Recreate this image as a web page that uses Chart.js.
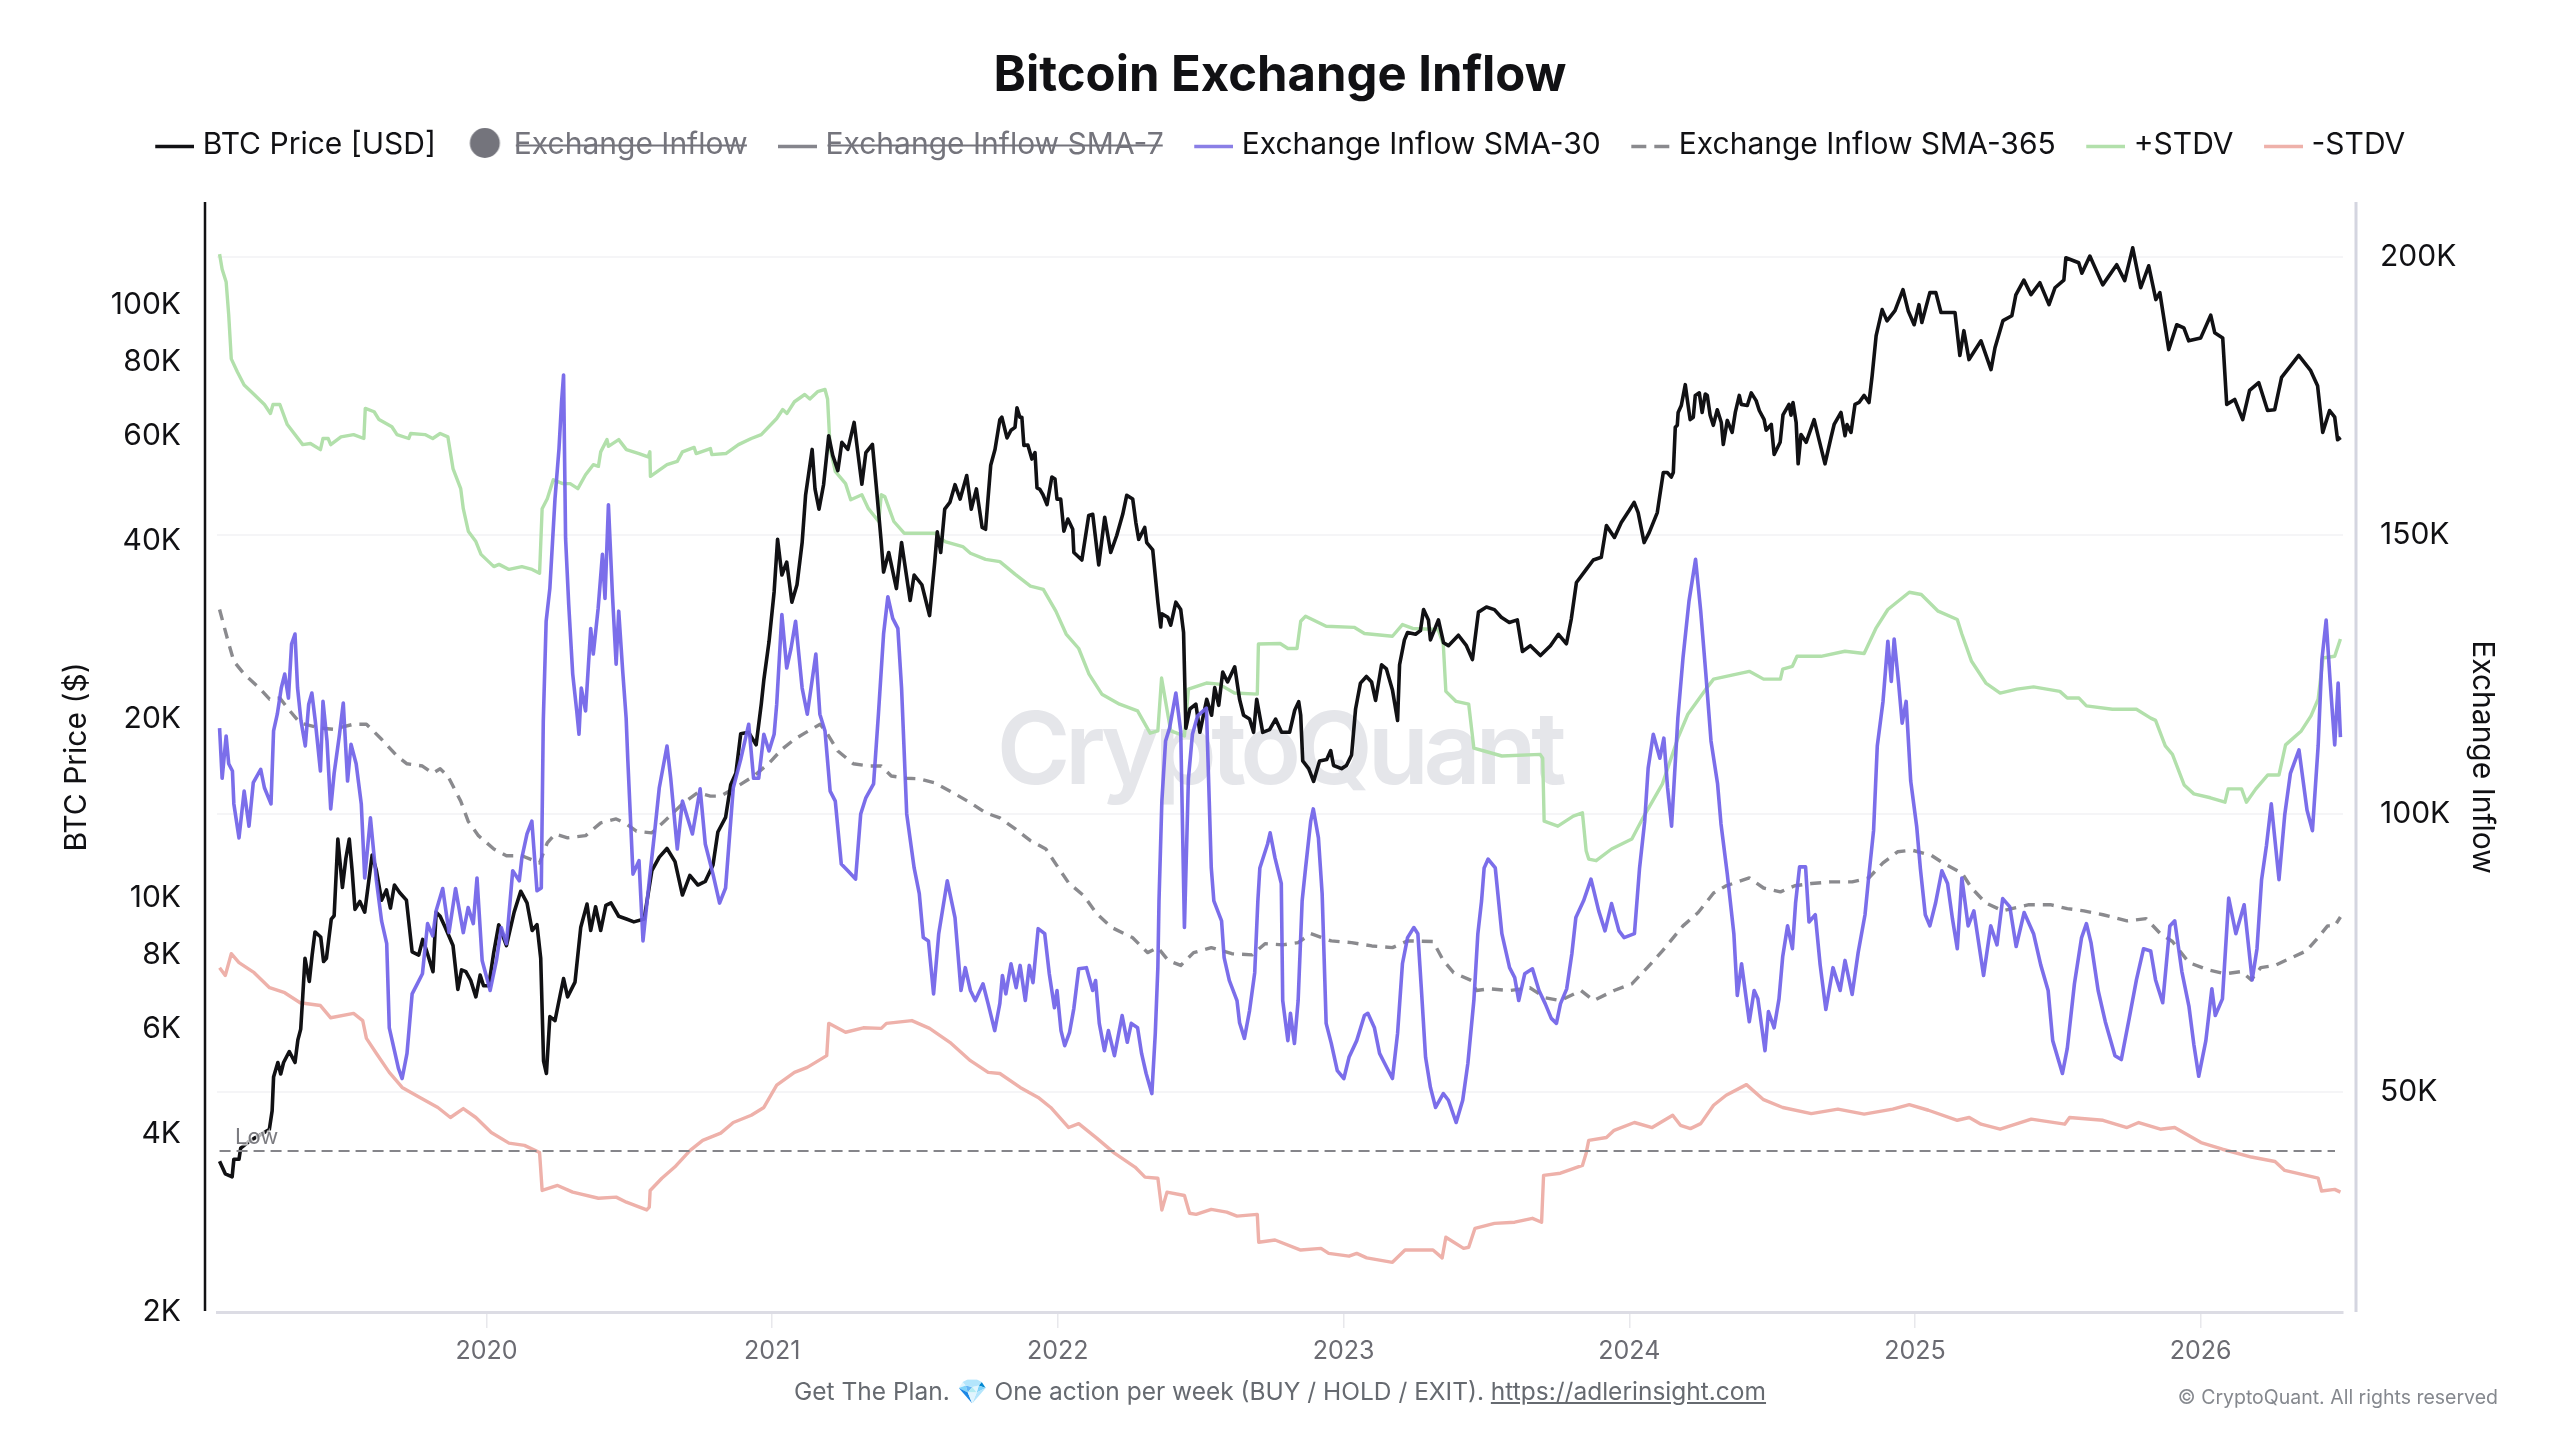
<!DOCTYPE html>
<html>
<head>
<meta charset="utf-8">
<title>Bitcoin Exchange Inflow</title>
<script src="https://cdn.jsdelivr.net/npm/chart.js@4/dist/chart.umd.js"></script>
<style>
  html, body { margin: 0; padding: 0; background: #fff; }
  #stage { position: relative; width: 2560px; height: 1440px; overflow: hidden; font-family: Inter, sans-serif; }
  #chart { position: absolute; left: 0; top: 0; }
  .note { position: absolute; white-space: nowrap; }
  #plan { left: 0; width: 2560px; top: 1375px; text-align: center; font-size: 24.5px; line-height: 32px; color: #666a70; }
  #plan a { color: #666a70; text-decoration: underline; }
  #rights { right: 62px; top: 1384px; font-size: 19.5px; line-height: 26px; color: #85888e; }
</style>
</head>
<body>
<div id="stage">
  <canvas id="chart" width="2560" height="1440"></canvas>
  <div id="plan" class="note">Get The Plan. 💎 One action per week (BUY / HOLD / EXIT). <a href="https://adlerinsight.com">https://adlerinsight.com</a></div>
  <div id="rights" class="note">© CryptoQuant. All rights reserved</div>
</div>
<script>
// All series are [decimal year, value in thousands].
const priceTicks = [2, 4, 6, 8, 10, 20, 40, 60, 80, 100];
const inflowTicks = [50, 100, 150, 200];
const yearTicks = [2020, 2021, 2022, 2023, 2024, 2025, 2026];
const seriesNames = ['BTC Price [USD]', 'Exchange Inflow', 'Exchange Inflow SMA-7', 'Exchange Inflow SMA-30', 'Exchange Inflow SMA-365', '+STDV', '-STDV'];
const lowPrice = 3.736;

const btcPrice = [[2019.066,3.59],[2019.086,3.42],[2019.11,3.38],[2019.116,3.62],[2019.134,3.62],[2019.14,3.78],[2019.17,3.88],[2019.2,3.96],[2019.24,4.06],[2019.25,4.37],[2019.255,4.98],[2019.27,5.27],[2019.28,5.04],[2019.29,5.27],[2019.31,5.5],[2019.33,5.27],[2019.34,5.75],[2019.35,6.0],[2019.357,6.8],[2019.365,7.9],[2019.38,7.22],[2019.39,8.0],[2019.4,8.75],[2019.42,8.58],[2019.43,7.8],[2019.44,7.9],[2019.457,9.2],[2019.467,9.32],[2019.48,12.55],[2019.496,10.4],[2019.508,11.64],[2019.52,12.55],[2019.53,11.1],[2019.54,9.55],[2019.557,9.85],[2019.574,9.45],[2019.6,11.8],[2019.615,11.1],[2019.633,9.9],[2019.65,10.3],[2019.664,9.6],[2019.678,10.5],[2019.696,10.2],[2019.72,9.9],[2019.74,8.1],[2019.763,8.0],[2019.777,8.5],[2019.79,8.15],[2019.813,7.5],[2019.824,9.45],[2019.838,9.3],[2019.856,8.9],[2019.883,8.3],[2019.9,7.0],[2019.913,7.55],[2019.928,7.5],[2019.945,7.25],[2019.963,6.8],[2019.978,7.4],[2019.99,7.1],[2020.008,7.1],[2020.026,8.1],[2020.043,9.0],[2020.07,8.3],[2020.097,9.45],[2020.12,10.25],[2020.142,9.8],[2020.16,8.8],[2020.177,9.0],[2020.19,7.9],[2020.2,5.3],[2020.21,5.05],[2020.222,6.3],[2020.24,6.2],[2020.258,6.85],[2020.27,7.3],[2020.284,6.8],[2020.31,7.2],[2020.33,8.9],[2020.352,9.75],[2020.365,8.8],[2020.382,9.65],[2020.4,8.8],[2020.418,9.7],[2020.436,9.8],[2020.463,9.3],[2020.49,9.2],[2020.516,9.1],[2020.552,9.2],[2020.579,11.1],[2020.605,11.7],[2020.632,12.1],[2020.66,11.5],[2020.686,10.1],[2020.712,10.9],[2020.74,10.5],[2020.766,10.65],[2020.793,11.35],[2020.81,12.9],[2020.837,13.65],[2020.855,15.5],[2020.873,16.2],[2020.89,18.9],[2020.918,19.0],[2020.944,18.1],[2020.962,21.2],[2020.971,23.3],[2020.989,27.0],[2021.007,32.8],[2021.019,40.2],[2021.034,35.0],[2021.051,36.8],[2021.069,31.5],[2021.087,33.7],[2021.105,39.7],[2021.117,47.7],[2021.14,57.0],[2021.15,48.9],[2021.164,45.2],[2021.18,49.7],[2021.198,60.1],[2021.212,55.7],[2021.23,52.5],[2021.244,58.6],[2021.265,57.0],[2021.287,63.3],[2021.3,56.3],[2021.314,49.8],[2021.328,56.3],[2021.351,58.1],[2021.364,49.7],[2021.381,40.2],[2021.39,35.4],[2021.408,38.2],[2021.435,33.2],[2021.453,39.7],[2021.483,31.7],[2021.497,35.0],[2021.524,33.7],[2021.551,29.9],[2021.569,36.8],[2021.578,41.4],[2021.59,38.2],[2021.604,45.2],[2021.622,46.4],[2021.64,49.7],[2021.658,47.0],[2021.681,51.5],[2021.697,45.2],[2021.715,48.9],[2021.735,42.1],[2021.747,41.8],[2021.765,53.6],[2021.78,57.0],[2021.797,64.0],[2021.804,64.6],[2021.822,59.6],[2021.836,61.4],[2021.85,62.1],[2021.857,67.0],[2021.867,64.6],[2021.874,64.6],[2021.881,57.9],[2021.895,58.0],[2021.909,54.9],[2021.92,56.3],[2021.927,49.1],[2021.937,48.8],[2021.948,47.8],[2021.962,46.0],[2021.979,51.2],[2021.99,50.8],[2021.997,47.0],[2022.01,47.0],[2022.021,41.5],[2022.035,43.5],[2022.052,41.8],[2022.056,38.2],[2022.084,37.1],[2022.108,44.1],[2022.122,44.3],[2022.143,36.4],[2022.164,43.8],[2022.185,38.2],[2022.206,40.8],[2022.227,44.3],[2022.241,47.7],[2022.262,47.0],[2022.273,42.9],[2022.283,40.2],[2022.304,42.1],[2022.311,39.7],[2022.332,38.6],[2022.35,31.5],[2022.36,28.6],[2022.364,30.1],[2022.385,29.7],[2022.395,28.8],[2022.413,31.5],[2022.43,30.6],[2022.44,28.0],[2022.448,19.3],[2022.462,20.8],[2022.483,21.2],[2022.497,19.0],[2022.521,21.6],[2022.538,20.3],[2022.549,22.6],[2022.563,21.1],[2022.577,24.0],[2022.594,23.1],[2022.619,24.5],[2022.636,21.6],[2022.65,20.3],[2022.671,20.0],[2022.685,19.0],[2022.696,21.6],[2022.717,19.0],[2022.741,19.2],[2022.762,20.0],[2022.783,19.0],[2022.811,19.0],[2022.829,20.7],[2022.843,21.4],[2022.85,20.3],[2022.857,17.0],[2022.878,16.5],[2022.895,15.7],[2022.916,17.0],[2022.941,17.1],[2022.955,17.7],[2022.965,16.7],[2022.993,16.5],[2023.01,16.7],[2023.028,17.4],[2023.042,20.8],[2023.059,23.0],[2023.08,23.6],[2023.098,23.1],[2023.112,21.5],[2023.133,24.7],[2023.15,24.3],[2023.171,22.4],[2023.189,19.9],[2023.196,24.7],[2023.213,27.2],[2023.224,28.0],[2023.252,27.8],[2023.269,28.2],[2023.28,30.6],[2023.297,29.4],[2023.304,27.2],[2023.332,29.4],[2023.35,26.9],[2023.367,26.6],[2023.402,27.7],[2023.43,26.6],[2023.451,25.2],[2023.472,30.3],[2023.5,30.9],[2023.528,30.6],[2023.552,29.7],[2023.58,29.1],[2023.608,29.4],[2023.626,26.0],[2023.654,26.6],[2023.689,25.6],[2023.724,26.6],[2023.752,27.8],[2023.78,26.8],[2023.797,29.5],[2023.815,34.0],[2023.85,35.8],[2023.874,37.1],[2023.902,37.5],[2023.92,42.4],[2023.948,40.5],[2023.972,42.9],[2024.0,45.0],[2024.017,46.4],[2024.031,44.6],[2024.052,39.7],[2024.07,41.3],[2024.098,44.6],[2024.105,47.0],[2024.119,52.1],[2024.133,52.1],[2024.147,51.2],[2024.154,52.1],[2024.161,62.1],[2024.168,62.6],[2024.171,65.8],[2024.182,67.6],[2024.196,73.3],[2024.203,69.2],[2024.213,64.0],[2024.224,64.6],[2024.231,70.3],[2024.245,71.0],[2024.255,65.8],[2024.266,70.7],[2024.273,70.3],[2024.283,65.1],[2024.294,62.6],[2024.308,66.5],[2024.322,63.3],[2024.329,58.1],[2024.343,63.8],[2024.36,60.9],[2024.371,65.8],[2024.385,70.3],[2024.392,67.9],[2024.413,67.6],[2024.427,71.0],[2024.444,68.9],[2024.455,66.3],[2024.472,64.0],[2024.479,61.4],[2024.497,62.8],[2024.507,55.9],[2024.528,58.6],[2024.538,65.2],[2024.559,67.9],[2024.566,65.1],[2024.573,68.4],[2024.584,63.3],[2024.591,53.9],[2024.601,60.4],[2024.619,58.6],[2024.647,64.0],[2024.664,59.2],[2024.685,53.9],[2024.706,59.7],[2024.717,62.8],[2024.741,65.8],[2024.755,60.1],[2024.762,62.8],[2024.776,60.9],[2024.79,67.9],[2024.804,68.4],[2024.822,70.3],[2024.839,68.4],[2024.85,75.9],[2024.864,88.7],[2024.885,98.1],[2024.902,93.9],[2024.93,97.7],[2024.958,106],[2024.976,97.7],[2024.997,92.5],[2025.014,100],[2025.024,93.3],[2025.052,104.8],[2025.073,104.8],[2025.091,97],[2025.14,97],[2025.157,82.1],[2025.171,90.4],[2025.189,80.8],[2025.231,86.9],[2025.266,77.7],[2025.28,84.6],[2025.308,94],[2025.339,95.8],[2025.353,103.9],[2025.381,110],[2025.406,104],[2025.437,108.9],[2025.469,100],[2025.49,106.8],[2025.521,110],[2025.528,120],[2025.573,117.7],[2025.584,113],[2025.612,120.8],[2025.657,108],[2025.706,116.8],[2025.734,109.8],[2025.762,124.7],[2025.783,111],[2025.79,106.8],[2025.818,116.3],[2025.843,102],[2025.857,104.8],[2025.888,84],[2025.916,92.5],[2025.941,91.4],[2025.958,86.9],[2026.0,87.9],[2026.035,96],[2026.049,89.7],[2026.077,87.9],[2026.091,67.9],[2026.119,69.2],[2026.147,64],[2026.171,71.7],[2026.203,73.9],[2026.234,66.3],[2026.259,66.5],[2026.283,75.4],[2026.343,82.1],[2026.385,77.4],[2026.409,73],[2026.427,60.9],[2026.451,66.3],[2026.469,64.6],[2026.479,59.2],[2026.49,59.7]];

const inflowSma30 = [[2019.066,115.4],[2019.075,106.4],[2019.089,114],[2019.098,109],[2019.111,107.7],[2019.116,101.8],[2019.134,95.7],[2019.152,104.1],[2019.169,97.8],[2019.184,105.6],[2019.21,108],[2019.223,104.7],[2019.246,101.8],[2019.255,114.9],[2019.268,117.9],[2019.282,122.6],[2019.294,125.1],[2019.307,120.8],[2019.318,130.5],[2019.33,132.3],[2019.339,122.6],[2019.351,116.7],[2019.366,112.2],[2019.378,119.7],[2019.389,121.7],[2019.401,116.7],[2019.419,107.7],[2019.428,120.2],[2019.442,113.1],[2019.455,100.9],[2019.467,107.3],[2019.485,114],[2019.499,119.9],[2019.514,105.9],[2019.526,112.5],[2019.544,109],[2019.562,101.8],[2019.574,88.5],[2019.594,99.3],[2019.615,88],[2019.633,80.8],[2019.651,76.7],[2019.66,61.6],[2019.678,57.5],[2019.692,54.3],[2019.705,52.5],[2019.722,57],[2019.74,67.7],[2019.758,69.5],[2019.776,71.3],[2019.794,80.3],[2019.812,78.1],[2019.824,82.6],[2019.847,86.6],[2019.869,78.7],[2019.892,86.6],[2019.919,78.7],[2019.936,83.2],[2019.954,80.3],[2019.967,88.5],[2019.985,73.7],[2020.013,68.3],[2020.035,73.7],[2020.052,79.6],[2020.07,76.7],[2020.092,89.8],[2020.115,88],[2020.124,92.1],[2020.142,96.4],[2020.159,98.7],[2020.177,86.2],[2020.192,86.7],[2020.199,116.7],[2020.209,134.6],[2020.222,140.5],[2020.24,156.6],[2020.254,165.6],[2020.263,174],[2020.27,178.8],[2020.277,149.5],[2020.288,137.6],[2020.302,125.1],[2020.316,118.5],[2020.324,114.3],[2020.332,122.6],[2020.347,118.5],[2020.365,133.3],[2020.374,128.7],[2020.391,136.9],[2020.406,146.6],[2020.415,138.7],[2020.427,155.5],[2020.441,139.4],[2020.454,126.9],[2020.463,136.4],[2020.477,125.6],[2020.489,117.2],[2020.495,109.5],[2020.513,89.2],[2020.534,91.6],[2020.548,77.2],[2020.57,88],[2020.588,96.4],[2020.605,104.7],[2020.632,112.2],[2020.645,106.4],[2020.668,93.7],[2020.686,102.3],[2020.721,96.4],[2020.748,104.5],[2020.766,94.6],[2020.793,89.2],[2020.816,84],[2020.837,86.7],[2020.864,104.7],[2020.891,110],[2020.918,116.1],[2020.935,106.4],[2020.953,106.4],[2020.971,114.3],[2020.989,111.3],[2021.007,114.3],[2021.016,119.7],[2021.034,135.8],[2021.051,126.2],[2021.066,129.7],[2021.082,134.6],[2021.105,122.6],[2021.123,117.9],[2021.153,128.7],[2021.167,117.9],[2021.185,114.9],[2021.203,104.1],[2021.221,102.3],[2021.242,91],[2021.265,89.8],[2021.292,88.3],[2021.31,100],[2021.328,102.9],[2021.355,105.4],[2021.372,117.9],[2021.39,132.3],[2021.405,139],[2021.422,135.1],[2021.44,133.3],[2021.453,122.6],[2021.471,100],[2021.497,90.3],[2021.515,85.7],[2021.529,77.8],[2021.547,77.2],[2021.565,67.7],[2021.583,78.5],[2021.613,88],[2021.64,81.4],[2021.661,68.3],[2021.676,72.4],[2021.694,68.3],[2021.711,66.5],[2021.738,69.5],[2021.756,65.9],[2021.779,61.1],[2021.797,66],[2021.806,71],[2021.818,67.7],[2021.836,73.1],[2021.854,68.8],[2021.868,72.8],[2021.886,66.5],[2021.9,72.8],[2021.913,69.7],[2021.931,79.4],[2021.954,78.5],[2021.97,71.3],[2021.988,65.2],[2021.997,68.3],[2022.011,61.1],[2022.024,58.4],[2022.041,60.8],[2022.056,65.1],[2022.073,72.2],[2022.1,72.4],[2022.122,68.3],[2022.132,70.1],[2022.145,62.4],[2022.163,57.5],[2022.177,61.1],[2022.198,56.6],[2022.225,63.8],[2022.243,59],[2022.257,62.4],[2022.279,61.6],[2022.293,57],[2022.309,53.4],[2022.329,49.8],[2022.341,60.6],[2022.35,72.4],[2022.354,84.4],[2022.364,102.3],[2022.377,113.1],[2022.391,115.4],[2022.413,121.7],[2022.43,114.9],[2022.443,79.6],[2022.457,106.4],[2022.471,114.3],[2022.489,117.6],[2022.52,119],[2022.537,90.3],[2022.546,84.4],[2022.573,80.8],[2022.582,74.2],[2022.6,70.1],[2022.627,66.5],[2022.636,62.5],[2022.653,59.7],[2022.671,64.7],[2022.689,71.5],[2022.7,84.4],[2022.707,90.3],[2022.734,94.6],[2022.743,96.6],[2022.76,92.1],[2022.782,87.5],[2022.787,66.5],[2022.805,59.3],[2022.814,64.2],[2022.828,58.8],[2022.841,66.5],[2022.855,84.4],[2022.867,90.3],[2022.885,98.7],[2022.894,100.9],[2022.912,95.7],[2022.925,85.7],[2022.939,62.4],[2022.957,58.8],[2022.978,53.9],[2023.001,52.5],[2023.019,56.3],[2023.046,59.3],[2023.073,63.8],[2023.085,64.2],[2023.108,61.6],[2023.126,57],[2023.144,55.2],[2023.171,52.5],[2023.189,60.6],[2023.206,73.1],[2023.224,77.8],[2023.246,79.6],[2023.26,78.5],[2023.272,68.8],[2023.287,56.3],[2023.304,50.9],[2023.322,47.3],[2023.349,49.8],[2023.367,48.6],[2023.394,44.6],[2023.417,48.6],[2023.435,55.2],[2023.456,66.5],[2023.47,78.5],[2023.483,84.4],[2023.492,90.3],[2023.506,91.9],[2023.531,90.3],[2023.554,78.5],[2023.581,72.4],[2023.599,70.6],[2023.613,66.5],[2023.634,71.3],[2023.661,72.2],[2023.684,68.3],[2023.706,65.9],[2023.727,63.3],[2023.745,62.4],[2023.759,65.9],[2023.781,68.6],[2023.799,74.9],[2023.813,81.4],[2023.84,84.4],[2023.866,88.3],[2023.893,82.6],[2023.915,79],[2023.938,83.9],[2023.964,79],[2023.982,77.8],[2024.018,78.5],[2024.036,90.3],[2024.054,98.7],[2024.066,108.2],[2024.084,114.3],[2024.107,110],[2024.121,113.6],[2024.134,104.7],[2024.148,97.8],[2024.17,117.2],[2024.188,128],[2024.209,138.2],[2024.232,145.7],[2024.25,136.4],[2024.268,125.1],[2024.286,113.1],[2024.309,105.4],[2024.321,98.2],[2024.343,89.2],[2024.366,78.5],[2024.378,67.4],[2024.393,73.1],[2024.42,62.7],[2024.437,68.3],[2024.45,66.8],[2024.475,57.5],[2024.487,64.5],[2024.507,61.6],[2024.524,66.8],[2024.537,74.4],[2024.554,79.9],[2024.571,75.8],[2024.582,84],[2024.596,90.5],[2024.617,90.5],[2024.629,80.6],[2024.651,81.9],[2024.668,72.9],[2024.688,64.9],[2024.713,72.4],[2024.738,68.3],[2024.755,73.7],[2024.78,67.6],[2024.801,75.1],[2024.825,81.9],[2024.838,88.7],[2024.855,97],[2024.868,112.2],[2024.888,120.2],[2024.905,131],[2024.917,123.8],[2024.927,131.4],[2024.942,123.8],[2024.955,116.3],[2024.969,120.2],[2024.985,105.9],[2025.006,97.7],[2025.019,90.1],[2025.036,81.9],[2025.052,79.9],[2025.072,84],[2025.094,89.8],[2025.114,87.5],[2025.131,81.2],[2025.148,75.8],[2025.164,88.5],[2025.186,79.9],[2025.206,82.6],[2025.24,71],[2025.265,79.9],[2025.287,76.5],[2025.307,84.8],[2025.332,83.3],[2025.354,76.2],[2025.382,82.3],[2025.415,78.5],[2025.44,72.9],[2025.466,68.3],[2025.482,59.3],[2025.516,53.4],[2025.533,57.9],[2025.558,69.5],[2025.583,77.8],[2025.6,80.3],[2025.616,76.9],[2025.641,68.3],[2025.666,62.7],[2025.7,56.6],[2025.722,55.9],[2025.75,63.4],[2025.775,70.2],[2025.8,75.8],[2025.825,75.4],[2025.842,70.2],[2025.867,66.1],[2025.892,79.9],[2025.909,80.8],[2025.934,71.7],[2025.959,65.4],[2025.976,58.6],[2025.993,52.9],[2026.018,59.3],[2026.039,68.6],[2026.051,63.8],[2026.076,66.8],[2026.098,84.9],[2026.123,78.5],[2026.152,83.7],[2026.18,70.2],[2026.197,75.8],[2026.213,88.2],[2026.23,94.3],[2026.247,101.8],[2026.274,88.2],[2026.294,99.8],[2026.314,107.3],[2026.344,111.5],[2026.372,100.7],[2026.391,97],[2026.411,112.2],[2026.424,127.6],[2026.439,134.8],[2026.453,123.8],[2026.469,112.4],[2026.481,123.5],[2026.489,113.8]];

const inflowSma365 = [[2019.066,136.7],[2019.08,134],[2019.098,130.6],[2019.116,127.4],[2019.152,125.1],[2019.205,122.6],[2019.241,120.6],[2019.277,120.8],[2019.312,118.5],[2019.348,116.3],[2019.419,115.4],[2019.464,115.2],[2019.535,116.1],[2019.58,116.1],[2019.633,113.4],[2019.687,110.4],[2019.722,109],[2019.776,108.6],[2019.812,107.3],[2019.838,108.1],[2019.865,106.8],[2019.91,102.3],[2019.936,98.7],[2019.972,96.1],[2020.026,93.7],[2020.07,92.5],[2020.124,92.5],[2020.186,91.2],[2020.213,94.8],[2020.24,96.4],[2020.284,95.7],[2020.347,96.1],[2020.4,98.4],[2020.454,99.1],[2020.49,98.2],[2020.525,96.9],[2020.579,96.6],[2020.623,98.7],[2020.686,101.8],[2020.739,103.8],[2020.784,103.2],[2020.82,103.2],[2020.864,104.5],[2020.936,106.8],[2020.989,109.1],[2021.034,111.6],[2021.078,113.4],[2021.114,114.5],[2021.168,116.1],[2021.194,114.3],[2021.23,111.3],[2021.284,109],[2021.337,108.6],[2021.382,108.6],[2021.417,106.8],[2021.471,106.4],[2021.515,106.3],[2021.569,105.6],[2021.64,103.6],[2021.694,102],[2021.747,100.2],[2021.797,99.3],[2021.851,97.3],[2021.904,95.2],[2021.958,93.7],[2022.002,90.3],[2022.038,87.6],[2022.091,85.3],[2022.136,82.1],[2022.189,79.6],[2022.261,77.8],[2022.314,75.1],[2022.35,76],[2022.386,73.7],[2022.43,72.8],[2022.475,75.1],[2022.537,76],[2022.609,74.9],[2022.68,74.7],[2022.725,76.7],[2022.787,76.5],[2022.841,76.9],[2022.885,78.5],[2022.957,77.2],[2023.028,76.9],[2023.099,76.3],[2023.171,76],[2023.224,77.2],[2023.313,77.1],[2023.349,73.7],[2023.385,71.5],[2023.447,70.1],[2023.465,68.3],[2023.51,68.6],[2023.581,68.3],[2023.652,68.8],[2023.706,67],[2023.759,66.5],[2023.831,68.3],[2023.875,66.5],[2023.947,68.3],[2024.009,69.5],[2024.063,72.4],[2024.116,75.4],[2024.188,79.9],[2024.241,82.3],[2024.295,85.8],[2024.339,87.1],[2024.42,88.5],[2024.47,86.7],[2024.529,86],[2024.579,87.1],[2024.637,87.5],[2024.704,87.8],[2024.78,87.8],[2024.838,88.5],[2024.888,91.2],[2024.939,93.2],[2024.989,93.5],[2025.056,92.6],[2025.098,91.2],[2025.164,89.4],[2025.198,86.7],[2025.248,84],[2025.307,82.6],[2025.399,83.7],[2025.474,83.7],[2025.533,83],[2025.591,82.6],[2025.658,81.9],[2025.742,80.8],[2025.809,81.2],[2025.859,78.5],[2025.901,77.1],[2025.959,73.3],[2026.026,72],[2026.085,71.3],[2026.143,71.7],[2026.177,70.2],[2026.21,72.4],[2026.26,72.8],[2026.31,74],[2026.369,75.4],[2026.411,77.8],[2026.444,79.9],[2026.469,79.9],[2026.489,81.5]];

const upperStdv = [[2019.066,200.5],[2019.075,197.8],[2019.089,195.5],[2019.098,189.6],[2019.107,181.7],[2019.128,179.4],[2019.152,177],[2019.187,175.3],[2019.223,173.5],[2019.244,171.9],[2019.253,173.5],[2019.277,173.5],[2019.303,169.9],[2019.357,166.3],[2019.384,166.5],[2019.419,165.4],[2019.428,167.4],[2019.446,167.4],[2019.455,166.3],[2019.491,167.7],[2019.535,168.1],[2019.571,167.4],[2019.576,172.8],[2019.607,172.2],[2019.624,170.8],[2019.669,169.5],[2019.687,168.1],[2019.728,167.4],[2019.735,168.3],[2019.785,168.1],[2019.812,167.4],[2019.838,168.3],[2019.865,167.7],[2019.883,162],[2019.91,158.4],[2019.919,154.8],[2019.937,150.7],[2019.963,148.9],[2019.981,146.6],[2020.026,144.4],[2020.044,144.8],[2020.079,143.9],[2020.124,144.4],[2020.16,143.9],[2020.186,143.2],[2020.195,154.8],[2020.213,156.6],[2020.234,160],[2020.267,159.3],[2020.293,159.3],[2020.32,158.4],[2020.347,160.9],[2020.374,162.7],[2020.392,162.4],[2020.4,165],[2020.422,167.2],[2020.427,166],[2020.463,167.2],[2020.49,165.4],[2020.534,164.7],[2020.566,164.1],[2020.572,165],[2020.574,160.6],[2020.632,162.7],[2020.668,163.3],[2020.686,165],[2020.727,165.8],[2020.734,164.7],[2020.784,165.6],[2020.789,164.5],[2020.838,164.7],[2020.882,166.3],[2020.927,167.4],[2020.962,168.1],[2021.016,171],[2021.037,172.6],[2021.052,171.9],[2021.078,174],[2021.114,175.3],[2021.132,174.5],[2021.159,175.8],[2021.185,176.2],[2021.194,174.5],[2021.203,165.6],[2021.221,161.5],[2021.257,159.3],[2021.275,156.4],[2021.314,157.3],[2021.337,154.8],[2021.373,152.5],[2021.382,157.3],[2021.394,157],[2021.426,152.5],[2021.462,150.4],[2021.569,150.4],[2021.605,148.9],[2021.667,148],[2021.694,146.8],[2021.747,145.7],[2021.797,145.3],[2021.851,143],[2021.904,140.9],[2021.949,140.3],[2021.993,136.4],[2022.029,132.3],[2022.073,129.7],[2022.109,125.1],[2022.154,121.5],[2022.216,119.7],[2022.279,118.5],[2022.323,114.5],[2022.35,114.9],[2022.363,124.4],[2022.377,120.2],[2022.395,114.9],[2022.443,114],[2022.457,122.4],[2022.52,123.5],[2022.564,123.3],[2022.618,121.7],[2022.698,121.5],[2022.702,130.5],[2022.778,130.6],[2022.805,129.7],[2022.837,129.7],[2022.85,134.6],[2022.867,135.5],[2022.939,133.7],[2023.037,133.5],[2023.073,132.4],[2023.171,131.9],[2023.206,134],[2023.242,133.3],[2023.331,133.1],[2023.349,130.5],[2023.358,122],[2023.394,120.2],[2023.438,119.7],[2023.456,111.8],[2023.492,111.3],[2023.554,110.4],[2023.688,110.7],[2023.697,110],[2023.702,98.7],[2023.75,97.8],[2023.804,99.6],[2023.836,100.2],[2023.849,93.4],[2023.858,91.9],[2023.884,91.6],[2023.938,93.7],[2024.009,95.5],[2024.048,99.3],[2024.116,105.4],[2024.17,113.6],[2024.205,117.9],[2024.268,122.4],[2024.295,124.2],[2024.42,125.6],[2024.47,124.2],[2024.529,124.2],[2024.537,126],[2024.571,126.5],[2024.587,128.3],[2024.671,128.3],[2024.755,129.2],[2024.822,128.8],[2024.863,133.3],[2024.905,136.7],[2024.98,139.8],[2025.022,139.4],[2025.081,136.4],[2025.148,134.9],[2025.164,132.3],[2025.198,127.4],[2025.248,123.5],[2025.298,121.7],[2025.357,122.4],[2025.415,122.8],[2025.507,122],[2025.533,120.8],[2025.574,120.8],[2025.6,119.4],[2025.691,118.8],[2025.775,118.8],[2025.825,117.2],[2025.842,116.8],[2025.876,112.2],[2025.901,110.7],[2025.942,105.2],[2025.976,103.6],[2026.034,102.9],[2026.085,102.1],[2026.096,104.5],[2026.143,104.5],[2026.16,102.1],[2026.193,104.5],[2026.235,107],[2026.274,107],[2026.297,112.4],[2026.352,114.9],[2026.386,117.6],[2026.411,120.6],[2026.428,128],[2026.469,128.3],[2026.489,131.4]];

const lowerStdv = [[2019.066,72.4],[2019.086,71],[2019.107,74.9],[2019.134,73.3],[2019.187,71.5],[2019.241,68.8],[2019.294,67.9],[2019.348,66.1],[2019.419,65.6],[2019.455,63.4],[2019.535,64.2],[2019.567,62.9],[2019.58,59.7],[2019.615,57],[2019.66,53.6],[2019.705,50.9],[2019.767,49.1],[2019.83,47.3],[2019.874,45.5],[2019.919,47.1],[2019.963,45.5],[2020.017,42.8],[2020.079,40.9],[2020.133,40.5],[2020.186,39.2],[2020.195,32.4],[2020.249,33.3],[2020.302,32.1],[2020.392,31],[2020.454,31.2],[2020.49,30.3],[2020.561,28.9],[2020.57,29.4],[2020.573,32.4],[2020.614,34.6],[2020.659,36.6],[2020.713,39.6],[2020.757,41.4],[2020.82,42.7],[2020.864,44.6],[2020.927,45.9],[2020.971,47.3],[2021.016,51.3],[2021.078,53.6],[2021.123,54.5],[2021.191,56.6],[2021.198,62.4],[2021.257,60.8],[2021.319,61.6],[2021.382,61.5],[2021.4,62.4],[2021.489,62.9],[2021.551,61.5],[2021.622,59],[2021.694,55.7],[2021.756,53.6],[2021.797,53.4],[2021.868,50.9],[2021.931,49.1],[2021.975,47.3],[2022.038,43.7],[2022.073,44.4],[2022.136,41.8],[2022.198,39.1],[2022.27,36.6],[2022.305,34.8],[2022.35,34.6],[2022.364,28.9],[2022.382,32.1],[2022.443,31.5],[2022.461,28.3],[2022.484,28.1],[2022.537,29],[2022.591,28.5],[2022.627,27.8],[2022.698,28.1],[2022.703,23.1],[2022.76,23.5],[2022.85,21.7],[2022.921,22],[2022.948,21.1],[2023.019,20.6],[2023.046,21.1],[2023.081,20.3],[2023.171,19.5],[2023.215,21.7],[2023.313,21.7],[2023.345,20.3],[2023.358,24],[2023.42,22],[2023.438,22.2],[2023.46,25.6],[2023.528,26.5],[2023.599,26.7],[2023.661,27.4],[2023.693,26.7],[2023.7,35.1],[2023.759,35.5],[2023.836,36.9],[2023.849,39.1],[2023.858,41.4],[2023.92,41.9],[2023.947,43.2],[2024.018,44.6],[2024.08,43.7],[2024.152,45.9],[2024.179,44.1],[2024.214,43.5],[2024.25,44.4],[2024.295,47.7],[2024.339,49.5],[2024.41,51.4],[2024.47,48.7],[2024.537,47.3],[2024.637,46.2],[2024.73,47],[2024.822,46.1],[2024.922,47],[2024.98,47.8],[2025.047,46.8],[2025.148,45],[2025.19,45.5],[2025.231,44.3],[2025.298,43.4],[2025.407,45.2],[2025.524,44.3],[2025.541,45.5],[2025.658,45],[2025.742,43.7],[2025.783,44.6],[2025.859,43.4],[2025.909,43.7],[2026.001,41],[2026.076,39.8],[2026.177,38.4],[2026.26,37.6],[2026.294,36],[2026.411,34.6],[2026.423,32.3],[2026.469,32.6],[2026.489,32.1]];

const lowLine = [[2019.066, lowPrice], [2026.47, lowPrice]];

const COLORS = {
  price: '#111114',
  inflow: '#77777f',
  sma30: 'rgba(112,98,232,0.92)',
  sma365: '#8a8a8e',
  upper: '#b2e0ab',
  lower: '#eeb1aa',
  low: '#85858a',
  muted: '#74747c'
};

// Legend marks are small canvases so the line and dot sit exactly in their slot.
function legendMark(kind, color, dash) {
  const c = document.createElement('canvas');
  c.width = 46;
  c.height = 34;
  const g = c.getContext('2d');
  if (kind === 'dot') {
    g.fillStyle = color;
    g.beginPath();
    g.arc(25.5, 15, 15, 0, Math.PI * 2);
    g.fill();
  } else {
    g.strokeStyle = color;
    g.lineWidth = 3.5;
    g.setLineDash(dash || []);
    g.beginPath();
    g.moveTo(7, 18.5);
    g.lineTo(46, 18.5);
    g.stroke();
  }
  return c;
}

const legendMarks = [
  legendMark('line', COLORS.price),
  legendMark('dot', COLORS.muted),
  legendMark('line', '#85858c'),
  legendMark('line', '#8a7fe6'),
  legendMark('line', COLORS.sma365, [15, 8]),
  legendMark('line', COLORS.upper),
  legendMark('line', COLORS.lower)
];

const AXIS_GAP = 12;

const axisRules = {
  id: 'axisRules',
  afterDraw(chart) {
    const { ctx, chartArea: a } = chart;
    ctx.save();
    ctx.lineWidth = 2.5;
    ctx.strokeStyle = '#111114';
    ctx.beginPath();
    ctx.moveTo(a.left - AXIS_GAP, a.top);
    ctx.lineTo(a.left - AXIS_GAP, a.bottom - 1);
    ctx.stroke();
    ctx.lineWidth = 3;
    ctx.strokeStyle = '#d4d5e0';
    ctx.beginPath();
    ctx.moveTo(a.right + 13, a.top);
    ctx.lineTo(a.right + 13, a.bottom);
    ctx.stroke();
    ctx.restore();
  }
};

const watermark = {
  id: 'watermark',
  beforeDatasetsDraw(chart) {
    const { ctx, chartArea: a } = chart;
    ctx.save();
    ctx.font = '600 100px Inter, sans-serif';
    ctx.letterSpacing = '-5.4px';
    ctx.textAlign = 'center';
    ctx.textBaseline = 'alphabetic';
    ctx.fillStyle = '#e5e6ea';
    ctx.fillText('CryptoQuant', (a.left + a.right) / 2 - 1, a.top + 582);
    ctx.restore();
  }
};

const lowLabel = {
  id: 'lowLabel',
  afterDatasetsDraw(chart) {
    const { ctx, scales } = chart;
    ctx.save();
    ctx.font = '22px Inter, sans-serif';
    ctx.textAlign = 'left';
    ctx.textBaseline = 'alphabetic';
    const x = scales.x.getPixelForValue(2019.12);
    const y = scales.yPrice.getPixelForValue(lowPrice) - 7;
    ctx.lineWidth = 3;
    ctx.strokeStyle = 'rgba(255,255,255,0.75)';
    ctx.strokeText('Low', x, y);
    ctx.fillStyle = '#7b7b80';
    ctx.fillText('Low', x, y);
    ctx.restore();
  }
};

function lineSet(label, data, yAxisID, color, width, order, extra) {
  return Object.assign({ label, data, yAxisID, borderColor: color, backgroundColor: color, borderWidth: width, order, pointRadius: 0, tension: 0, borderJoinStyle: 'round', fill: false }, extra || {});
}

const datasets = [
  lineSet(seriesNames[0], btcPrice, 'yPrice', COLORS.price, 3.6, 3),
  lineSet(seriesNames[1], [], 'yInflow', COLORS.inflow, 2, 7, { hidden: true }),
  lineSet(seriesNames[2], [], 'yInflow', COLORS.inflow, 2, 7, { hidden: true }),
  lineSet(seriesNames[3], inflowSma30, 'yInflow', COLORS.sma30, 3.6, 2),
  lineSet(seriesNames[4], inflowSma365, 'yInflow', COLORS.sma365, 3.4, 4, { borderDash: [11, 8] }),
  lineSet(seriesNames[5], upperStdv, 'yInflow', COLORS.upper, 3.4, 5),
  lineSet(seriesNames[6], lowerStdv, 'yInflow', COLORS.lower, 3.4, 6),
  lineSet('Low', lowLine, 'yPrice', COLORS.low, 2, 1, { borderDash: [11, 6] })
];

new Chart(document.getElementById('chart'), {
  type: 'line',
  data: { datasets },
  plugins: [watermark, lowLabel, axisRules],
  options: {
    responsive: false,
    animation: false,
    devicePixelRatio: 1,
    parsing: true,
    layout: { padding: { top: 52, left: 0, right: 0, bottom: 0 } },
    font: { family: 'Inter, sans-serif' },
    plugins: {
      tooltip: { enabled: false },
      title: {
        display: true,
        text: 'Bitcoin Exchange Inflow',
        color: '#111114',
        font: { family: 'Inter, sans-serif', size: 49, weight: '700', lineHeight: 1 },
        padding: { top: 0, bottom: -1 }
      },
      subtitle: {
        display: true,
        text: '',
        weight: 500,
        font: { size: 1, lineHeight: 1 },
        padding: { top: 31, bottom: 0 }
      },
      legend: {
        display: true,
        position: 'top',
        labels: {
          usePointStyle: true,
          pointStyleWidth: 33,
          boxHeight: 30,
          padding: 30,
          font: { family: 'Inter, sans-serif', size: 30 },
          generateLabels(chart) {
            return seriesNames.map((name, i) => ({
              text: name,
              datasetIndex: i,
              hidden: !chart.isDatasetVisible(i),
              fontColor: chart.isDatasetVisible(i) ? '#111114' : COLORS.muted,
              pointStyle: legendMarks[i],
              lineWidth: 0,
              strokeStyle: 'transparent',
              fillStyle: 'transparent'
            }));
          }
        }
      }
    },
    scales: {
      x: {
        type: 'linear',
        min: 2019.057,
        max: 2026.498,
        afterBuildTicks(scale) { scale.ticks = yearTicks.map(v => ({ value: v })); },
        afterFit(scale) { scale.height = 128; },
        border: { display: true, color: '#dcdce4', width: 3 },
        grid: { display: true, drawOnChartArea: false, drawTicks: true, tickLength: 16, color: '#e8e8ec', lineWidth: 1.5 },
        ticks: {
          autoSkip: false,
          maxRotation: 0,
          minRotation: 0,
          padding: 8,
          color: '#6b6b72',
          font: { family: 'Inter, sans-serif', size: 25 },
          callback: v => String(v)
        }
      },
      yPrice: {
        type: 'logarithmic',
        position: 'left',
        min: 2,
        max: 149,
        afterBuildTicks(scale) { scale.ticks = priceTicks.map(v => ({ value: v })); },
        afterFit(scale) { scale.width = 217; },
        border: { display: false },
        grid: { display: false, drawTicks: false },
        ticks: {
          autoSkip: false,
          padding: 36,
          color: '#111114',
          font: { family: 'Inter, sans-serif', size: 30 },
          callback: v => v + 'K'
        },
        title: {
          display: true,
          text: 'BTC Price ($)',
          color: '#111114',
          font: { family: 'Inter, sans-serif', size: 30 },
          padding: { top: 59, bottom: 0 }
        }
      },
      yInflow: {
        type: 'linear',
        position: 'right',
        min: 10.58,
        max: 209.86,
        afterBuildTicks(scale) { scale.ticks = inflowTicks.map(v => ({ value: v })); },
        afterFit(scale) { scale.width = 217; },
        border: { display: false },
        grid: { display: true, drawTicks: false, color: '#f5f5f7', lineWidth: 2 },
        ticks: {
          autoSkip: false,
          padding: 37,
          color: '#111114',
          font: { family: 'Inter, sans-serif', size: 30 },
          callback: v => v + 'K'
        },
        title: {
          display: true,
          text: 'Exchange Inflow',
          color: '#111114',
          font: { family: 'Inter, sans-serif', size: 30 },
          padding: { top: 60, bottom: 0 }
        }
      }
    }
  }
});
</script>
</body>
</html>
